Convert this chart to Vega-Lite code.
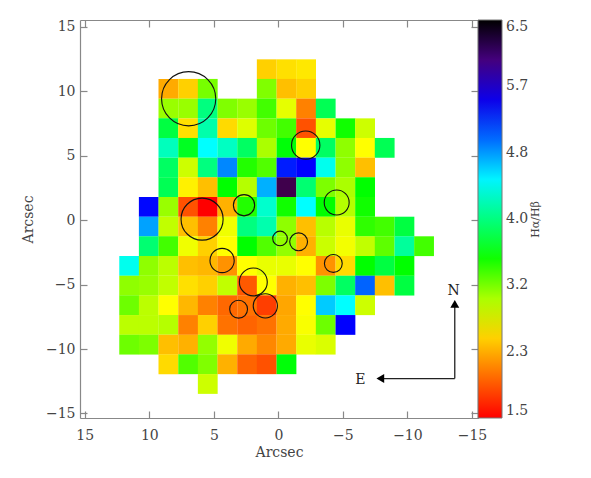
{"$schema":"https://vega.github.io/schema/vega-lite/v6.json","width":398,"height":398,"autosize":{"type":"none"},"padding":{"left":80,"top":20,"right":113,"bottom":60},"background":"white","view":{"stroke":null},
"config":{"axis":{"grid":false,"labelFont":"DejaVu Serif","labelFontSize":14,"labelColor":"#444","titleFont":"DejaVu Serif","titleFontSize":14,"titleFontWeight":"normal","titleColor":"#444","domainColor":"#888","domainWidth":1.2,"tickColor":"#888","tickWidth":1.2}},
"datasets":{"cells":[
{"x":0.90,"y":11.71,"v":2.5},{"x":-0.63,"y":11.71,"v":2.58},{"x":-2.15,"y":11.71,"v":2.62},
{"x":8.52,"y":10.19,"v":2.32},{"x":6.99,"y":10.19,"v":2.5},{"x":5.47,"y":10.19,"v":3.17},{"x":0.90,"y":10.19,"v":3.14},{"x":-0.63,"y":10.19,"v":2.42},{"x":-2.15,"y":10.19,"v":2.5},
{"x":8.52,"y":8.66,"v":3.06},{"x":6.99,"y":8.66,"v":3.06},{"x":5.47,"y":8.66,"v":4.0},{"x":3.95,"y":8.66,"v":3.14},{"x":2.42,"y":8.66,"v":3.06},{"x":0.90,"y":8.66,"v":3.34},{"x":-0.63,"y":8.66,"v":2.81},{"x":-2.15,"y":8.66,"v":2.12},{"x":-3.67,"y":8.66,"v":3.85},
{"x":8.52,"y":7.13,"v":3.78},{"x":6.99,"y":7.13,"v":2.58},{"x":5.47,"y":7.13,"v":4.16},{"x":3.95,"y":7.13,"v":2.55},{"x":2.42,"y":7.13,"v":2.84},{"x":0.90,"y":7.13,"v":3.2},{"x":-0.63,"y":7.13,"v":3.34},{"x":-2.15,"y":7.13,"v":1.89},{"x":-3.67,"y":7.13,"v":2.81},{"x":-5.20,"y":7.13,"v":3.5},{"x":-6.72,"y":7.13,"v":2.89},
{"x":8.52,"y":5.61,"v":4.22},{"x":6.99,"y":5.61,"v":3.67},{"x":5.47,"y":5.61,"v":4.46},{"x":3.95,"y":5.61,"v":4.24},{"x":2.42,"y":5.61,"v":3.9},{"x":0.90,"y":5.61,"v":3.0},{"x":-0.63,"y":5.61,"v":3.58},{"x":-2.15,"y":5.61,"v":2.73},{"x":-3.67,"y":5.61,"v":3.9},{"x":-5.20,"y":5.61,"v":3.09},{"x":-6.72,"y":5.61,"v":2.73},{"x":-8.24,"y":5.61,"v":3.85},
{"x":8.52,"y":4.08,"v":3.9},{"x":6.99,"y":4.08,"v":2.89},{"x":5.47,"y":4.08,"v":4.0},{"x":3.95,"y":4.08,"v":4.9},{"x":2.42,"y":4.08,"v":3.44},{"x":0.90,"y":4.08,"v":3.29},{"x":-0.63,"y":4.08,"v":5.29},{"x":-2.15,"y":4.08,"v":5.39},{"x":-3.67,"y":4.08,"v":4.4},{"x":-5.20,"y":4.08,"v":3.09},{"x":-6.72,"y":4.08,"v":2.42},
{"x":8.52,"y":2.56,"v":3.85},{"x":6.99,"y":2.56,"v":2.66},{"x":5.47,"y":2.56,"v":2.42},{"x":3.95,"y":2.56,"v":3.55},{"x":2.42,"y":2.56,"v":2.97},{"x":0.90,"y":2.56,"v":4.75},{"x":-0.63,"y":2.56,"v":6.2},{"x":-2.15,"y":2.56,"v":3.95},{"x":-3.67,"y":2.56,"v":3.15},{"x":-5.20,"y":2.56,"v":3.0},{"x":-6.72,"y":2.56,"v":3.55},
{"x":10.04,"y":1.03,"v":5.37},{"x":8.52,"y":1.03,"v":3.06},{"x":6.99,"y":1.03,"v":1.89},{"x":5.47,"y":1.03,"v":1.5},{"x":3.95,"y":1.03,"v":2.35},{"x":2.42,"y":1.03,"v":3.44},{"x":0.90,"y":1.03,"v":4.28},{"x":-0.63,"y":1.03,"v":3.5},{"x":-2.15,"y":1.03,"v":4.46},{"x":-3.67,"y":1.03,"v":3.55},{"x":-5.20,"y":1.03,"v":2.97},{"x":-6.72,"y":1.03,"v":3.5},
{"x":10.04,"y":-0.50,"v":4.8},{"x":8.52,"y":-0.50,"v":2.93},{"x":6.99,"y":-0.50,"v":2.42},{"x":5.47,"y":-0.50,"v":2.12},{"x":3.95,"y":-0.50,"v":2.78},{"x":2.42,"y":-0.50,"v":4.0},{"x":0.90,"y":-0.50,"v":4.17},{"x":-0.63,"y":-0.50,"v":3.09},{"x":-2.15,"y":-0.50,"v":2.42},{"x":-3.67,"y":-0.50,"v":2.96},{"x":-5.20,"y":-0.50,"v":2.8},{"x":-6.72,"y":-0.50,"v":3.4},{"x":-8.24,"y":-0.50,"v":3.34},{"x":-9.77,"y":-0.50,"v":3.78},
{"x":10.04,"y":-2.02,"v":3.95},{"x":8.52,"y":-2.02,"v":3.34},{"x":6.99,"y":-2.02,"v":2.78},{"x":5.47,"y":-2.02,"v":2.5},{"x":3.95,"y":-2.02,"v":2.73},{"x":2.42,"y":-2.02,"v":3.55},{"x":0.90,"y":-2.02,"v":3.29},{"x":-0.63,"y":-2.02,"v":3.08},{"x":-2.15,"y":-2.02,"v":2.35},{"x":-3.67,"y":-2.02,"v":2.9},{"x":-5.20,"y":-2.02,"v":2.77},{"x":-6.72,"y":-2.02,"v":2.93},{"x":-8.24,"y":-2.02,"v":3.25},{"x":-9.77,"y":-2.02,"v":4.1},{"x":-11.29,"y":-2.02,"v":3.34},
{"x":11.56,"y":-3.55,"v":4.4},{"x":10.04,"y":-3.55,"v":3.09},{"x":8.52,"y":-3.55,"v":2.95},{"x":6.99,"y":-3.55,"v":2.42},{"x":5.47,"y":-3.55,"v":2.38},{"x":3.95,"y":-3.55,"v":2.2},{"x":2.42,"y":-3.55,"v":2.73},{"x":0.90,"y":-3.55,"v":2.8},{"x":-0.63,"y":-3.55,"v":2.8},{"x":-2.15,"y":-3.55,"v":2.73},{"x":-3.67,"y":-3.55,"v":2.2},{"x":-5.20,"y":-3.55,"v":2.55},{"x":-6.72,"y":-3.55,"v":3.55},{"x":-8.24,"y":-3.55,"v":3.78},{"x":-9.77,"y":-3.55,"v":3.55},
{"x":11.56,"y":-5.08,"v":3.09},{"x":10.04,"y":-5.08,"v":3.06},{"x":8.52,"y":-5.08,"v":2.93},{"x":6.99,"y":-5.08,"v":2.58},{"x":5.47,"y":-5.08,"v":2.5},{"x":3.95,"y":-5.08,"v":2.93},{"x":2.42,"y":-5.08,"v":1.93},{"x":0.90,"y":-5.08,"v":2.73},{"x":-0.63,"y":-5.08,"v":2.35},{"x":-2.15,"y":-5.08,"v":2.42},{"x":-3.67,"y":-5.08,"v":3.15},{"x":-5.20,"y":-5.08,"v":3.9},{"x":-6.72,"y":-5.08,"v":5.03},{"x":-8.24,"y":-5.08,"v":2.42},{"x":-9.77,"y":-5.08,"v":3.78},
{"x":11.56,"y":-6.60,"v":3.2},{"x":10.04,"y":-6.60,"v":2.95},{"x":8.52,"y":-6.60,"v":2.73},{"x":6.99,"y":-6.60,"v":2.38},{"x":5.47,"y":-6.60,"v":2.12},{"x":3.95,"y":-6.60,"v":2.0},{"x":2.42,"y":-6.60,"v":2.05},{"x":0.90,"y":-6.60,"v":1.8},{"x":-0.63,"y":-6.60,"v":2.3},{"x":-2.15,"y":-6.60,"v":2.73},{"x":-3.67,"y":-6.60,"v":4.65},{"x":-5.20,"y":-6.60,"v":4.46},{"x":-6.72,"y":-6.60,"v":2.89},
{"x":11.56,"y":-8.13,"v":2.95},{"x":10.04,"y":-8.13,"v":2.95},{"x":8.52,"y":-8.13,"v":2.97},{"x":6.99,"y":-8.13,"v":2.12},{"x":5.47,"y":-8.13,"v":2.5},{"x":3.95,"y":-8.13,"v":2.05},{"x":2.42,"y":-8.13,"v":1.98},{"x":0.90,"y":-8.13,"v":2.05},{"x":-0.63,"y":-8.13,"v":2.32},{"x":-2.15,"y":-8.13,"v":2.75},{"x":-3.67,"y":-8.13,"v":3.2},{"x":-5.20,"y":-8.13,"v":5.39},
{"x":11.56,"y":-9.66,"v":3.2},{"x":10.04,"y":-9.66,"v":3.15},{"x":8.52,"y":-9.66,"v":2.42},{"x":6.99,"y":-9.66,"v":2.35},{"x":5.47,"y":-9.66,"v":3.08},{"x":3.95,"y":-9.66,"v":2.78},{"x":2.42,"y":-9.66,"v":2.32},{"x":0.90,"y":-9.66,"v":2.15},{"x":-0.63,"y":-9.66,"v":2.32},{"x":-2.15,"y":-9.66,"v":2.8},{"x":-3.67,"y":-9.66,"v":2.85},
{"x":8.52,"y":-11.18,"v":2.55},{"x":6.99,"y":-11.18,"v":3.29},{"x":5.47,"y":-11.18,"v":3.14},{"x":3.95,"y":-11.18,"v":2.35},{"x":2.42,"y":-11.18,"v":1.98},{"x":0.90,"y":-11.18,"v":1.89},{"x":-0.63,"y":-11.18,"v":3.58},
{"x":5.47,"y":-12.71,"v":2.89}
],
"circles":[{"x":6.95,"y":9.42,"r":2.37},{"x":2.66,"y":1.16,"r":0.93},{"x":5.91,"y":0.08,"r":1.84},{"x":4.36,"y":-3.13,"r":1.06},{"x":1.94,"y":-4.79,"r":1.22},{"x":1.01,"y":-6.65,"r":1.06},{"x":3.08,"y":-6.91,"r":0.78},{"x":-0.13,"y":-1.42,"r":0.64},{"x":-1.57,"y":-1.68,"r":0.78},{"x":-4.26,"y":-3.36,"r":0.78},{"x":-4.52,"y":1.37,"r":1.09},{"x":-2.12,"y":5.82,"r":1.24}],
"compass":[{"dir":"N","x":-13.67,"y":-12.29,"tx":-13.67,"ty":-6.5,"lx":-13.59,"ly":-5.51},{"dir":"E","x":-13.67,"y":-12.29,"tx":-7.9,"ty":-12.29,"lx":-6.36,"ly":-12.42}]},
"layer":[
{"data":{"name":"cells"},"mark":{"type":"rect","width":19.8,"height":19.8,"opacity":1,"fillOpacity":1,"strokeWidth":0},
"encoding":{
"x":{"field":"x","type":"quantitative","scale":{"domain":[15.37,-15.47],"nice":false,"zero":false},"axis":{"title":"Arcsec","values":[15,10,5,0,-5,-10,-15],"format":"d","tickSize":-7,"labelPadding":17,"titlePadding":3,"labelFlush":false,"labelOverlap":false}},
"y":{"field":"y","type":"quantitative","scale":{"domain":[-15.35,15.53],"nice":false,"zero":false},"axis":{"title":"Arcsec","values":[15,10,5,0,-5,-10,-15],"format":"d","tickSize":-7,"labelPadding":12,"titlePadding":10,"labelFlush":false,"labelOverlap":false}},
"color":{"field":"v","type":"quantitative","scale":{"type":"linear","domain":[1.5,2.115,2.73,3.14,3.55,4.005,4.46,4.925,5.39,5.79,6.12,6.5],"range":["#ff0000","#ff8000","#ffff00","#80ff00","#00ff00","#00ff80","#00ffff","#0080ff","#0000ff","#3000b0","#500060","#000000"],"interpolate":{"type":"rgb","gamma":1}},
"legend":{"title":null,"orient":"none","legendX":398,"legendY":0,"direction":"vertical","type":"gradient","gradientLength":398,"gradientThickness":24,"gradientStrokeColor":"#777","gradientStrokeWidth":1,"values":[1.5,2.3333,3.1667,4,4.8333,5.6667,6.5],"format":".1f","labelFont":"DejaVu Serif","labelFontSize":14,"labelColor":"#444","labelOffset":4,"labelOverlap":false}}}},
{"data":{"name":"circles"},"mark":{"type":"point","shape":"circle","filled":false,"stroke":"#111","strokeWidth":1.1,"opacity":1},
"encoding":{
"x":{"field":"x","type":"quantitative","axis":{"orient":"top","title":null,"values":[15,10,5,0,-5,-10,-15],"labels":false,"tickSize":-7}},
"y":{"field":"y","type":"quantitative","axis":{"orient":"right","title":"Hα/Hβ","titleAngle":270,"titleAlign":"center","titleBaseline":"middle","titleFontSize":11,"titlePadding":57,"titleY":199,"values":[15,10,5,0,-5,-10,-15],"labels":false,"tickSize":-7}},
"size":{"field":"r","type":"quantitative","scale":{"type":"pow","exponent":2,"domain":[0,5],"range":[0,13070]},"legend":null}}},
{"data":{"name":"compass"},"mark":{"type":"rule","stroke":"#222","strokeWidth":1.3},
"encoding":{"x":{"field":"x","type":"quantitative","axis":null},"y":{"field":"y","type":"quantitative","axis":null},"x2":{"field":"tx"},"y2":{"field":"ty"}}},
{"data":{"name":"compass"},"mark":{"type":"point","filled":true,"fill":"#000","size":80,"opacity":1},
"encoding":{"x":{"field":"tx","type":"quantitative","axis":null},"y":{"field":"ty","type":"quantitative","axis":null},"shape":{"field":"dir","type":"nominal","scale":{"domain":["N","E"],"range":["triangle-up","triangle-left"]},"legend":null}}},
{"data":{"name":"compass"},"mark":{"type":"text","font":"DejaVu Serif","fontSize":14,"color":"#222","align":"center","baseline":"middle"},
"encoding":{"x":{"field":"lx","type":"quantitative","axis":null},"y":{"field":"ly","type":"quantitative","axis":null},"text":{"field":"dir"}}}
],
"resolve":{"axis":{"x":"independent","y":"independent"},"scale":{"x":"shared","y":"shared"}}}
